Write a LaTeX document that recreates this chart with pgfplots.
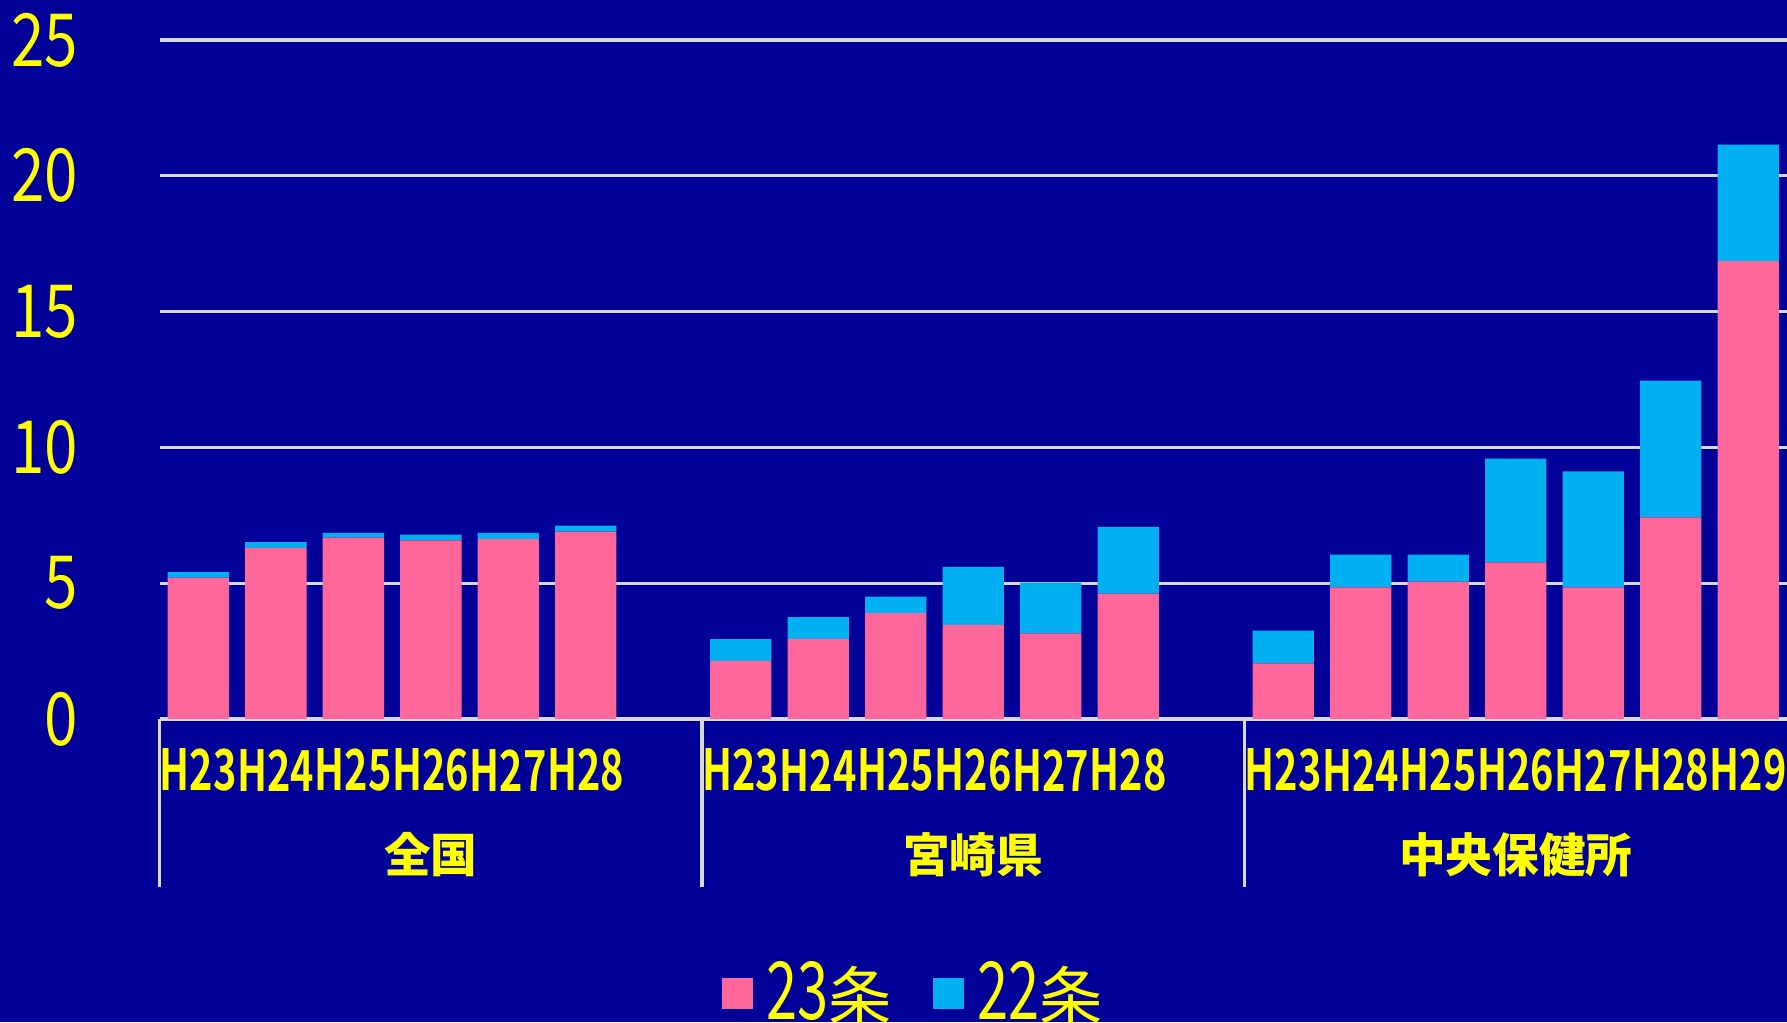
\documentclass[border=0pt]{standalone}
\usepackage{pgfplots}
\pgfplotsset{compat=1.18}
\usepackage{fontspec}
\setmainfont{Noto Sans CJK JP}
\newfontfamily\jp{Noto Sans CJK JP}
\newfontfamily\jpy[FakeStretch=0.82]{Noto Sans CJK JP}
\newfontfamily\jpx[FakeStretch=0.70]{Noto Sans CJK JP}
\newfontfamily\jpxb[FakeStretch=0.70, UprightFont=*, BoldFont=* Bold]{Noto Sans CJK JP}
\definecolor{bg}{HTML}{000099}
\definecolor{pinkc}{HTML}{FF6699}
\definecolor{cyanc}{HTML}{00B0F0}
\definecolor{gridc}{HTML}{D9D9D9}
\definecolor{ylw}{HTML}{FFFF00}
\begin{document}
\begin{tikzpicture}
\fill[bg] (-47.88pt,-90.9pt) rectangle (488.2pt,215.7pt);
\useasboundingbox (-47.88pt,-90.9pt) rectangle (488.2pt,215.7pt);
\begin{axis}[
  at={(0,0)}, anchor=south west,
  scale only axis, width=488.2pt, height=203.7pt,
  ybar stacked, bar width=18.4pt,
  xmin=-0.5, xmax=20.5, ymin=0, ymax=25,
  ytick={0,5,10,15,20,25},
  xtick={0,1,2,3,4,5,7,8,9,10,11,12,14,15,16,17,18,19,20},
  xticklabels={H23,H24,H25,H26,H27,H28,H23,H24,H25,H26,H27,H28,H23,H24,H25,H26,H27,H28,H29},
  /pgf/number format/assume math mode=true,
  ymajorgrids, grid style={draw=gridc, line width=1pt},
  axis x line*=bottom, axis y line*=left,
  x axis line style={draw=gridc, line width=1pt},
  y axis line style={draw=none},
  major tick length=0pt,
  yticklabel style={font=\jpy\fontsize{22pt}{22pt}\selectfont, text=ylw, anchor=east, inner sep=0pt, xshift=-24.3pt},
  xticklabel style={font=\jpxb\bfseries\fontsize{17pt}{17pt}\selectfont, text=ylw, anchor=center, inner sep=0pt, yshift=-15.3pt},
  legend style={at={(0.4645,-0.404)}, anchor=center, draw=none, fill=none, text=ylw, legend columns=-1,
    /tikz/every even column/.append style={column sep=10.3pt}},
  legend image code/.code={\fill[#1,draw=none] (0pt,-4.65pt) rectangle (9.3pt,4.65pt);},
  clip=false,
]
\addplot[fill=pinkc, draw=none] coordinates {
 (0,5.21) (1,6.30) (2,6.68) (3,6.58) (4,6.62) (5,6.90)
 (7,2.14) (8,2.95) (9,3.90) (10,3.47) (11,3.15) (12,4.62)
 (14,2.05) (15,4.85) (16,5.06) (17,5.77) (18,4.85) (19,7.42) (20,16.86)};
\addlegendentry{\hspace{2pt}{\jpx\fontsize{24pt}{24pt}\selectfont 23}{\jp\fontsize{19pt}{19pt}\selectfont 条}}
\addplot[fill=cyanc, draw=none] coordinates {
 (0,0.20) (1,0.21) (2,0.17) (3,0.21) (4,0.23) (5,0.22)
 (7,0.80) (8,0.80) (9,0.61) (10,2.13) (11,1.87) (12,2.45)
 (14,1.20) (15,1.20) (16,0.99) (17,3.82) (18,4.27) (19,5.04) (20,4.29)};
\addlegendentry{\hspace{2pt}{\jpx\fontsize{24pt}{24pt}\selectfont 22}{\jp\fontsize{19pt}{19pt}\selectfont 条}}
\draw[gridc, line width=1pt] (axis cs:-0.5,0) -- ([yshift=-50.4pt]axis cs:-0.5,0);
\draw[gridc, line width=1pt] (axis cs:6.5,0) -- ([yshift=-50.4pt]axis cs:6.5,0);
\draw[gridc, line width=1pt] (axis cs:13.5,0) -- ([yshift=-50.4pt]axis cs:13.5,0);
\node[text=ylw, font=\jp\bfseries\fontsize{14pt}{14pt}\selectfont] at ([yshift=-40.8pt]axis cs:3,0) {全国};
\node[text=ylw, font=\jp\bfseries\fontsize{14pt}{14pt}\selectfont] at ([yshift=-40.8pt]axis cs:10,0) {宮崎県};
\node[text=ylw, font=\jp\bfseries\fontsize{14pt}{14pt}\selectfont] at ([yshift=-40.8pt]axis cs:17,0) {中央保健所};
\end{axis}
\end{tikzpicture}
\end{document}
